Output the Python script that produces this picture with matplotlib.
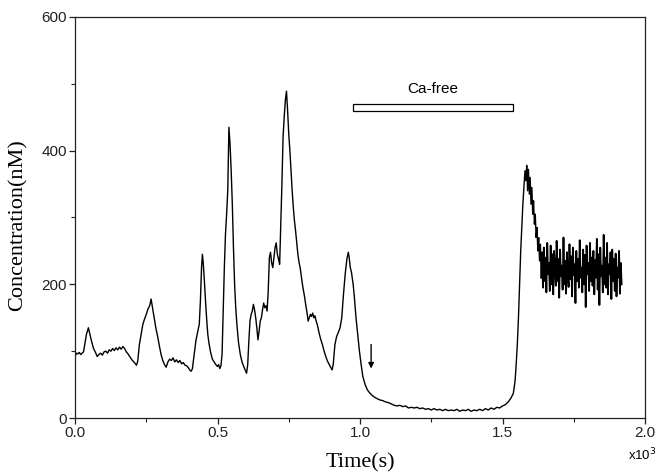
import numpy as np
import matplotlib
matplotlib.use("Agg")
import matplotlib.pyplot as plt
from matplotlib.patches import Rectangle

# ---- data (time in seconds, concentration in nM) ----
time_main = [0, 5, 10, 15, 20, 25, 30, 35, 40, 47, 52, 58, 65, 72, 78, 84, 90, 96,
             102, 108, 114, 120, 126, 132, 138, 144, 150, 156, 162, 168, 174, 180,
             186, 192, 198, 204, 210, 216, 220, 226, 232, 238, 244, 250, 256, 262,
             267, 272, 278, 284, 290, 296, 302, 308, 314, 320, 326, 332, 338, 344,
             350, 356, 362, 368, 374, 380, 386, 392, 398, 404, 408, 412, 418, 424,
             430, 436, 440, 444, 447, 450, 454, 458, 462, 466, 470, 476, 482, 488,
             494, 500, 504, 508, 512, 516, 520, 524, 528, 532, 536, 540, 544, 548,
             552, 556, 560, 564, 568, 574, 580, 586, 592, 598, 602, 606, 610, 614,
             618, 622, 626, 630, 634, 638, 642, 646, 650, 654, 658, 662, 666, 670,
             674, 678, 682, 686, 690, 694, 698, 702, 706, 710, 714, 718, 722, 726,
             730, 734, 738, 742, 746, 750, 754, 758, 762, 766, 770, 774, 778, 782,
             786, 790, 794, 798, 802, 806, 810, 814, 818, 822, 826, 830, 834, 838,
             842, 846, 850, 856, 862, 868, 874, 880, 886, 892, 898, 902, 906, 912,
             918, 924, 930, 936, 942, 948, 954, 959, 962, 966, 970, 976, 980, 986,
             992, 998, 1004, 1010, 1018, 1026, 1035, 1045, 1055, 1070, 1080, 1090,
             1100, 1110, 1120, 1130, 1140, 1150, 1160, 1170, 1180, 1190, 1200, 1210,
             1220, 1230, 1240, 1250, 1260, 1270, 1280, 1290, 1300, 1310, 1320, 1330,
             1340, 1350, 1360, 1370, 1380, 1390, 1400, 1410, 1420, 1430, 1440, 1450,
             1460, 1470, 1480, 1490, 1500, 1510, 1520, 1530, 1538, 1544, 1548, 1552,
             1556, 1560, 1564, 1568, 1571, 1575, 1579, 1582, 1585, 1588, 1591, 1594,
             1597, 1600, 1603, 1606, 1609, 1612, 1615, 1618, 1621, 1624, 1627, 1630,
             1633]
conc_main = [92, 97, 96, 98, 95, 97, 99, 112, 125, 135, 126, 115, 104, 98, 92, 95, 97, 94,
             99, 100, 97, 102, 100, 104, 101, 105, 102, 106, 103, 107, 104, 99,
             96, 92, 88, 85, 82, 79, 85, 110, 125, 140, 148, 155, 163, 168,
             178, 165, 150, 134, 122, 108, 95, 86, 80, 76, 84, 88, 86, 90,
             84, 87, 83, 86, 81, 83, 79, 78, 75, 71, 70, 74, 95, 115,
             128, 140, 175, 225, 245, 232, 205, 175, 148, 125, 112, 98, 88, 84,
             80, 77, 80, 74, 78, 95, 160, 225, 275, 305, 340, 435, 410, 370,
             320, 255, 200, 165, 140, 112, 95, 84, 77, 71, 67, 80, 115, 145,
             155, 160, 170, 162, 150, 135, 117, 130, 145, 150, 162, 172, 165, 168,
             160, 190, 240, 248, 232, 225, 240, 255, 262, 245, 238, 230, 290, 350,
             420, 450, 475, 489, 460, 425, 400, 370, 340, 315, 295, 280, 262, 245,
             233, 225, 212, 200, 190, 180, 168, 158, 145, 150, 155, 152, 157, 150,
             153, 145, 140, 128, 118, 110, 100, 92, 85, 80, 75, 72, 80, 110,
             122, 128, 135, 150, 185, 215, 238, 248, 240, 225, 218, 200, 182, 150,
             125, 100, 80, 62, 50, 42, 37, 33, 30, 27, 26, 24,
             23, 21, 19, 18, 19, 17, 18, 15, 16, 15, 16, 14,
             15, 13, 14, 12, 14, 12, 13, 11, 13, 11, 12, 11,
             13, 10, 12, 11, 13, 10, 12, 11, 13, 11, 14, 12,
             15, 13, 16, 15, 18, 20, 24, 30, 37, 55, 80, 110,
             150, 200, 251, 290, 316, 345, 370, 355, 378, 340, 372, 335,
             360, 320, 345, 305, 325, 290, 305, 270, 285, 250, 270, 235,
             260]

# noisy plateau after calcium re-addition (sampled every 3 s from 1636 s)
noise_start = 1636
noise_step = 3
conc_noise = [210, 248, 195, 255, 205, 240, 188, 262, 215, 232, 190, 258, 200, 245, 185,
              250, 222, 198, 265, 205, 238, 180, 252, 212, 228, 192, 270, 200, 235, 186,
              248, 218, 196, 260, 208, 242, 182, 255, 214, 230, 172, 250, 205, 238, 195,
              266, 210, 225, 188, 252, 200, 244, 166, 258, 215, 232, 190, 262, 205, 240,
              198, 250, 185, 236, 210, 268, 192, 245, 169, 255, 212, 228, 188, 274, 200,
              240, 195, 262, 185, 230, 215, 248, 178, 252, 205, 238, 190, 246, 182, 225,
              210, 250, 186, 232, 200]

cafree_start = 977   # s
cafree_end = 1536    # s
cafree_low = 460     # nM
cafree_high = 470    # nM
arrow_time = 1039    # s

x_ticks = [0.0, 0.5, 1.0, 1.5, 2.0]
y_ticks = [0, 200, 400, 600]

# ---- build series ----
time_noise = [noise_start + noise_step * i for i in range(len(conc_noise))]
t_main = np.array(time_main + [noise_start], dtype=float) / 1000.0
c_main = np.array(conc_main + [conc_noise[0]], dtype=float)
t_noise = np.array(time_noise, dtype=float) / 1000.0
c_noise = np.array(conc_noise, dtype=float)

fig = plt.figure(figsize=(6.56, 4.73), dpi=100)
ax = fig.add_axes([75 / 656, 1 - 418 / 473, 570 / 656, 401 / 473])

ax.plot(t_main, c_main, color="black", lw=1.0)
ax.plot(t_noise, c_noise, color="black", lw=1.3)

ax.set_xlim(0, 2.0)
ax.set_ylim(0, 600)
ax.set_xticks(x_ticks)
ax.set_xticklabels([f"{v:.1f}" for v in x_ticks])
ax.set_yticks(y_ticks)
ax.set_xticks([0.25, 0.75, 1.25, 1.75], minor=True)
ax.set_yticks([100, 300, 500], minor=True)

for lab in ax.get_xticklabels() + ax.get_yticklabels():
    lab.set_fontfamily("Liberation Sans")
    lab.set_fontsize(11)
ax.tick_params(which="major", direction="out", length=4, width=0.9, colors="#222222", pad=2)
ax.tick_params(which="minor", direction="out", length=3, width=0.8, colors="#222222")
for s in ax.spines.values():
    s.set_linewidth(0.9)
    s.set_color("#222222")

# Ca-free bar
ax.add_patch(Rectangle((cafree_start / 1000, cafree_low),
                       (cafree_end - cafree_start) / 1000, cafree_high - cafree_low,
                       facecolor="white", edgecolor="black", lw=0.9))
ax.text((cafree_start + cafree_end) / 2000, 482, "Ca-free", ha="center", va="bottom",
        fontfamily="Liberation Sans", fontsize=11)

# arrow
ax.annotate("", xy=(arrow_time / 1000, 74), xytext=(arrow_time / 1000, 110),
            arrowprops=dict(arrowstyle="-|>", color="black", lw=1.0,
                            mutation_scale=8, shrinkA=0, shrinkB=0))

# labels
fig.text(360 / 656, 1 - 463 / 473, "Time(s)", ha="center", va="center",
         fontfamily="Liberation Serif", fontsize=16)
fig.text(18 / 656, 1 - 225 / 473, "Concentration(nM)", ha="center", va="center",
         rotation=90, fontfamily="Liberation Serif", fontsize=16)
fig.text(628 / 656, 1 - 455 / 473, r"x10$^3$", ha="left", va="center",
         fontfamily="Liberation Sans", fontsize=9.5)

fig.savefig("out.png", dpi=100)
